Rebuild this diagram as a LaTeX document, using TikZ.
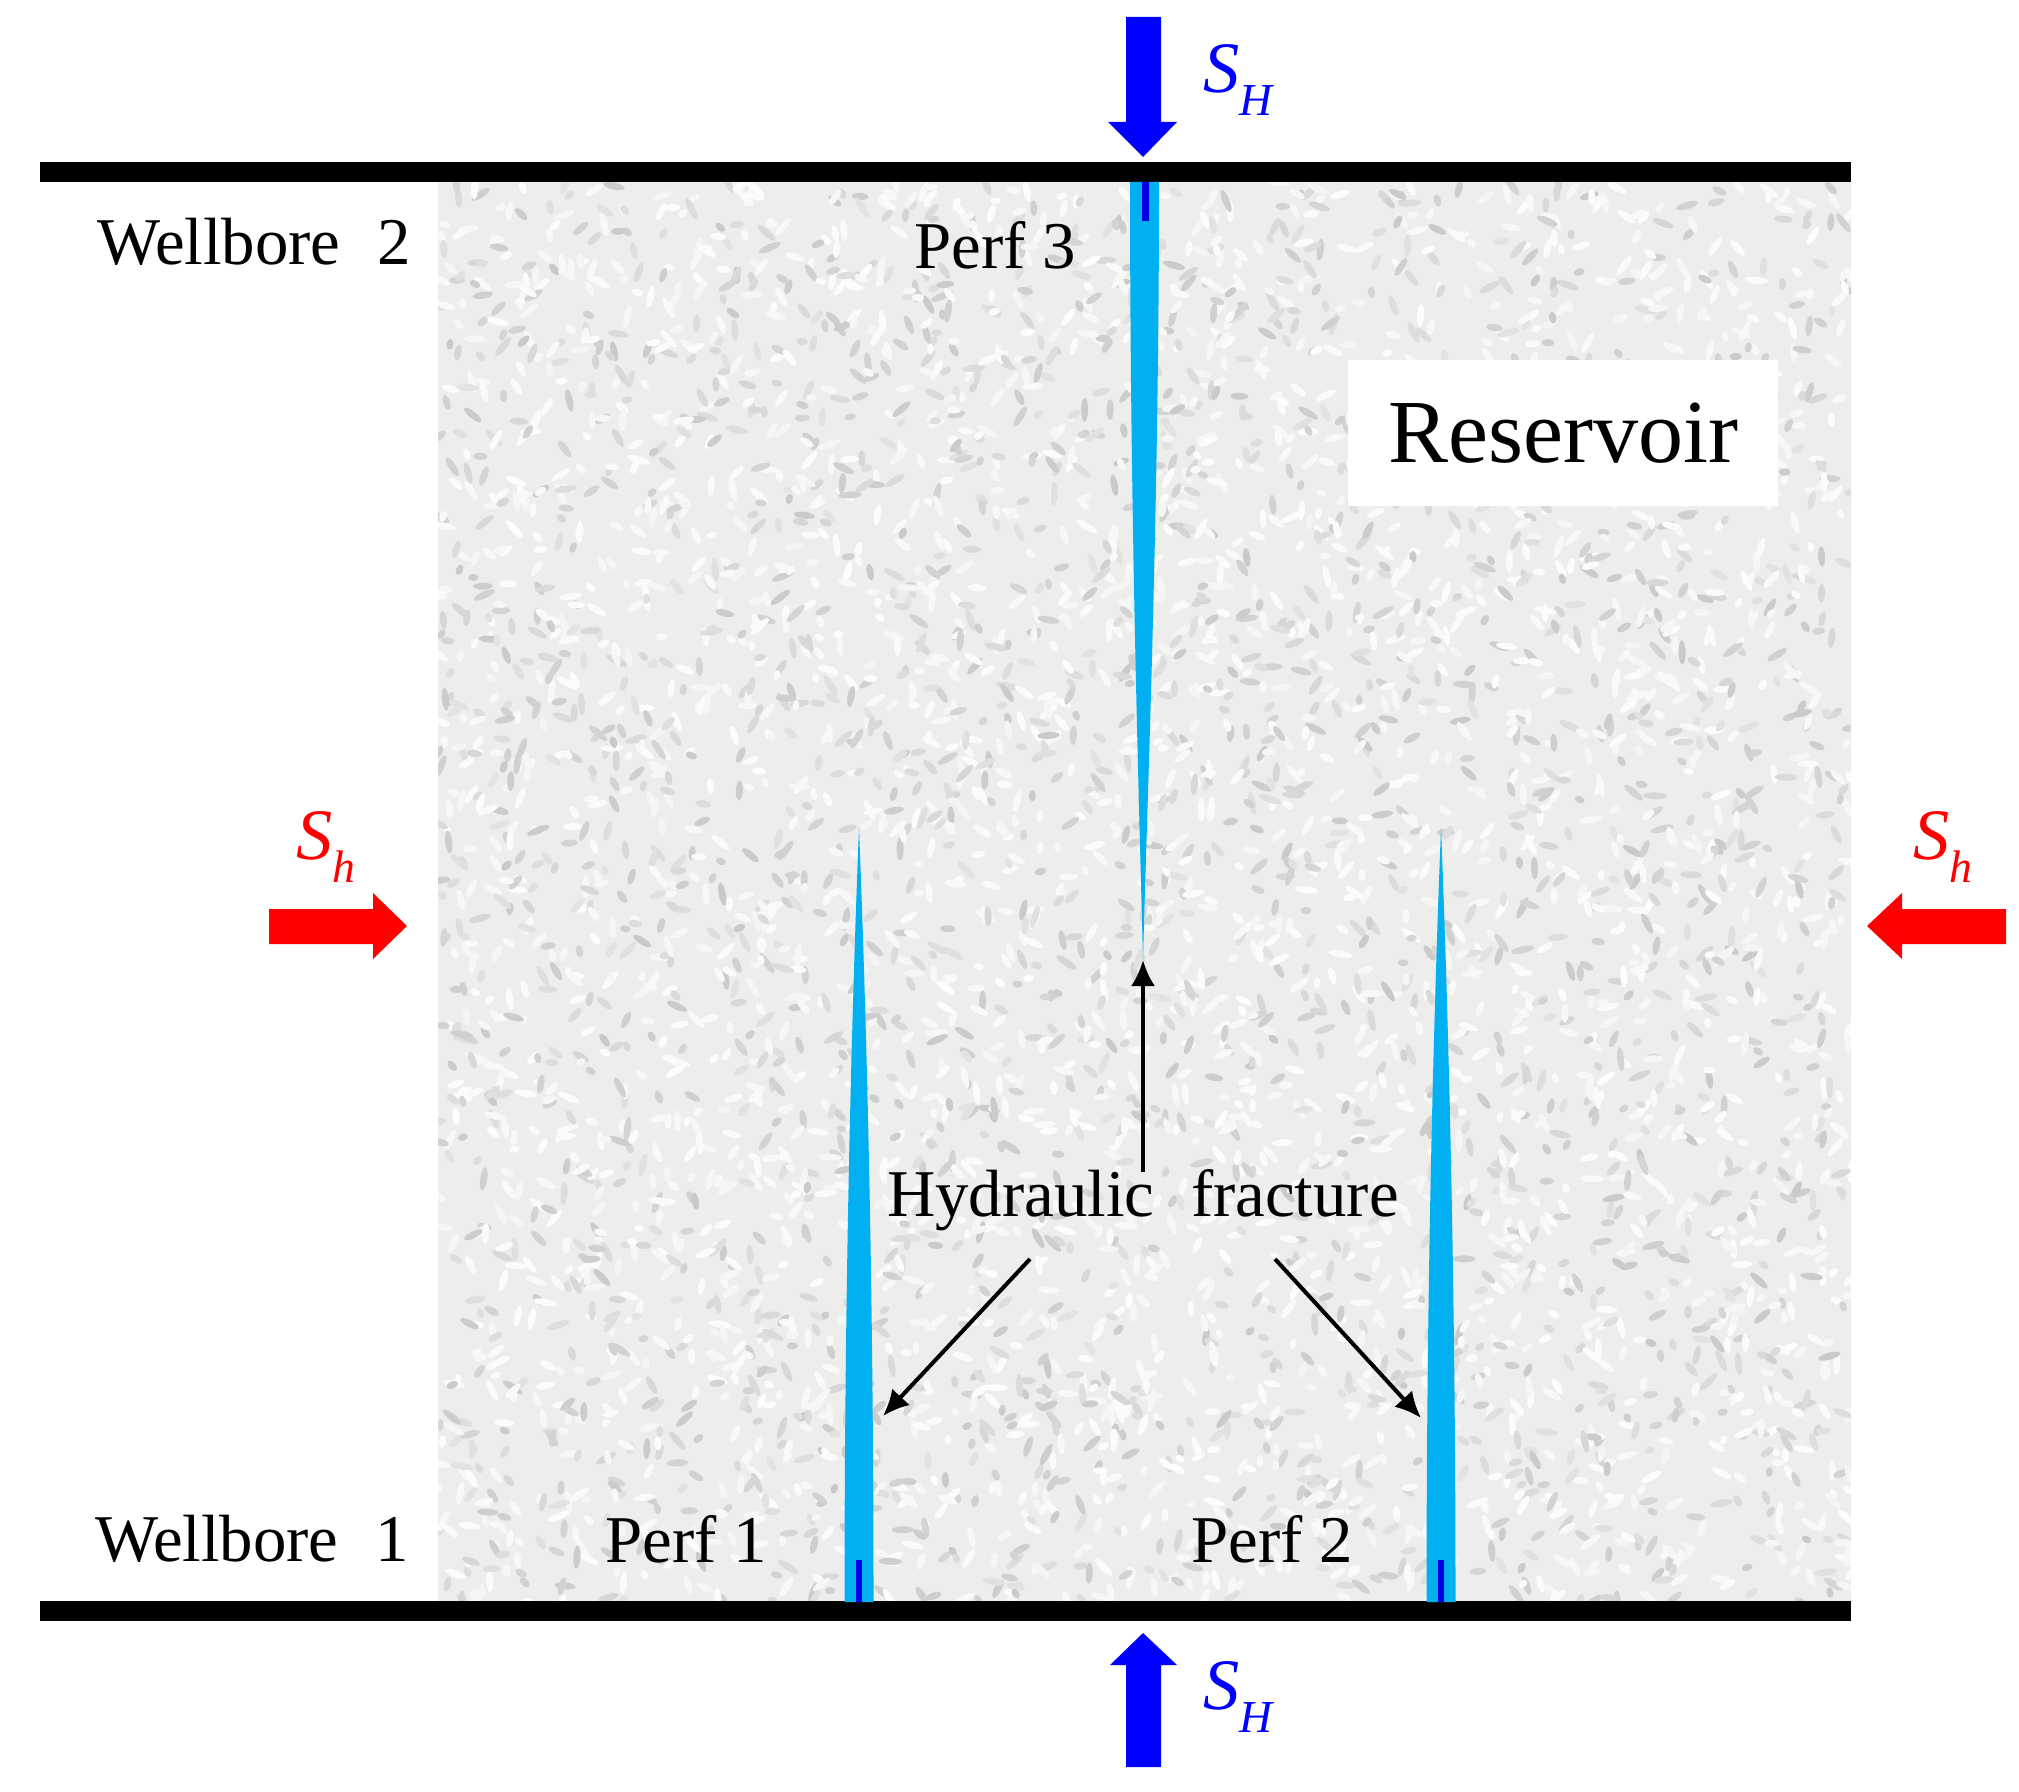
\documentclass[tikz,border=0pt]{standalone}
\usepackage{fontspec}
\setmainfont{Liberation Serif}
\usetikzlibrary{arrows.meta}
\definecolor{frac_blue}{HTML}{00B0F0}
\definecolor{tick_blue}{HTML}{0000E6}
\definecolor{load_blue}{HTML}{0000FF}
\definecolor{load_red}{HTML}{FF0000}
\definecolor{rock_base}{HTML}{EDEDEB}
\newcommand{\stresslabel}[1]{{\fontsize{20.6}{24}\selectfont\textit{S}\raisebox{-0.32em}{\fontsize{13}{13}\selectfont\textit{#1}}}}
\tikzset{
  well_bar/.style={black, line width=0.2cm},
  label_text/.style={inner sep=0pt, font=\fontsize{19}{22}\selectfont},
  pointer/.style={black, line width=0.04cm, -{Latex[length=0.26cm, width=0.24cm]}}
}

\begin{document}
\begin{tikzpicture}[x=0.01cm, y=-0.01cm]
  \useasboundingbox (0,0) rectangle (2019,1792);
  % draw mottled reservoir rock
  \fill[rock_base] (438,182) rectangle (1851,1602);
  \begin{scope}
    \clip (438,182) rectangle (1851,1602);
    \pgfmathsetseed{4217}
    \foreach \i in {1,...,5200} {
      \pgfmathsetmacro{\blobx}{438+1413*rnd}
      \pgfmathsetmacro{\bloby}{182+1420*rnd}
      \pgfmathsetmacro{\blobangle}{180*rnd}
      \pgfmathsetmacro{\bloblen}{0.05+0.07*rnd}
      \pgfmathsetmacro{\blobtone}{rnd<0.55 ? 1+3*rnd : 11+10*rnd}
      \fill[black!\blobtone, rotate around={\blobangle:(\blobx,\bloby)}] (\blobx,\bloby) ellipse [x radius=\bloblen cm, y radius=0.035cm];
    }
  \end{scope}
  % draw wellbores
  \draw[well_bar] (40,172) -- (1851,172);
  \draw[well_bar] (40,1611) -- (1851,1611);
  % draw fractures and perforation ticks
  \fill[frac_blue] (1130,182) .. controls (1130,520) and (1139,800) .. (1143,960) .. controls (1147,800) and (1159,520) .. (1159,182) -- cycle;
  \foreach \fraccx in {859,1441} {
    \fill[frac_blue] (\fraccx-14.5,1602) .. controls (\fraccx-14.5,1250) and (\fraccx-6,980) .. (\fraccx,828) .. controls (\fraccx+6,980) and (\fraccx+14.5,1250) .. (\fraccx+14.5,1602) -- cycle;
    \fill[tick_blue] (\fraccx-3,1560) rectangle (\fraccx+3,1602);
  }
  \fill[tick_blue] (1142,182) rectangle (1149,221);
  % draw stress arrows
  \fill[load_blue] (1126,17) -- (1161,17) -- (1161,122) -- (1177,122) -- (1143,157) -- (1108,122) -- (1126,122) -- cycle;
  \fill[load_blue] (1126,1767) -- (1161,1767) -- (1161,1665) -- (1177,1665) -- (1143,1633) -- (1110,1665) -- (1126,1665) -- cycle;
  \fill[load_red] (269,909) -- (373,909) -- (373,893) -- (407,926) -- (373,959) -- (373,944) -- (269,944) -- cycle;
  \fill[load_red] (2006,909) -- (1902,909) -- (1902,893) -- (1867,926) -- (1902,959) -- (1902,944) -- (2006,944) -- cycle;
  \node[inner sep=0pt, text=load_blue] (stress_top) at (1239,80) {\stresslabel{H}};
  \node[inner sep=0pt, text=load_blue] (stress_bottom) at (1239,1697) {\stresslabel{H}};
  \node[inner sep=0pt, text=load_red] (stress_left) at (326,847) {\stresslabel{h}};
  \node[inner sep=0pt, text=load_red] (stress_right) at (1943,847) {\stresslabel{h}};
  % draw labels
  \node[label_text] (well2_label) at (254,242) {Wellbore\hspace{0.3em} 2};
  \node[label_text] (well1_label) at (252,1539) {Wellbore\hspace{0.3em} 1};
  \node[label_text] (perf3_label) at (995,245) {Perf 3};
  \node[label_text] (perf1_label) at (686,1539) {Perf 1};
  \node[label_text] (perf2_label) at (1272,1539) {Perf 2};
  \node[fill=white, minimum width=4.3cm, minimum height=1.45cm, inner sep=0pt, font=\fontsize{25.6}{30}\selectfont] (reservoir_label) at (1563,433) {Reservoir};
  \node[label_text] (hydraulic_label) at (1143,1200) {Hydraulic\hspace{0.3em} fracture};
  % draw pointers to fractures
  \coordinate (up_start) at (1143,1172);
  \coordinate (left_start) at (1030,1259);
  \coordinate (right_start) at (1275,1259);
  \coordinate (frac3_tip) at (1143,960);
  \coordinate (frac1_side) at (883,1416);
  \coordinate (frac2_side) at (1421,1418);
  \draw[pointer] (up_start) -- (frac3_tip);
  \draw[pointer] (left_start) -- (frac1_side);
  \draw[pointer] (right_start) -- (frac2_side);
\end{tikzpicture}
\end{document}
